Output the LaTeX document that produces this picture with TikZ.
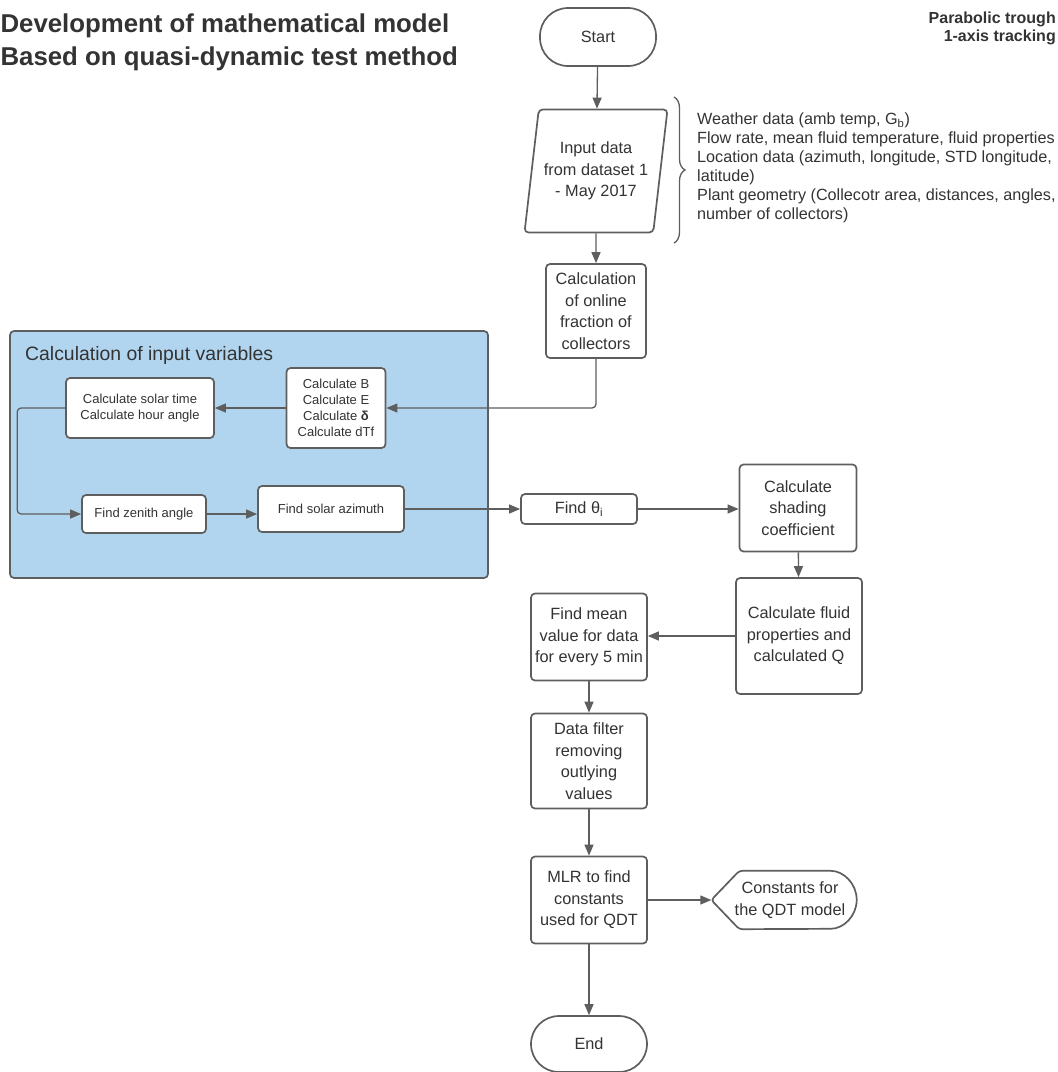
\documentclass[tikz,border=0pt]{standalone}
\usepackage{fontspec}
\setmainfont{Liberation Sans}
\usetikzlibrary{shapes.geometric,arrows.meta,decorations.pathreplacing}
\definecolor{lcol}{HTML}{5E5E5E}
\definecolor{tcol}{HTML}{333333}
\definecolor{grpblue}{HTML}{B1D5EF}
\newcommand{\fsz}[2]{\fontsize{#1}{#2}\selectfont}
\tikzstyle{proc}=[draw=lcol,line width=1.7pt,rounded corners=4pt,fill=white,align=center,text=tcol,inner sep=1pt,font=\fsz{16.3}{21.5}]
\tikzstyle{small}=[proc,font=\fsz{13}{16}]
\tikzstyle{term}=[proc,rounded corners=28pt,minimum width=116pt]
\tikzstyle{arr}=[draw=lcol,line width=1.3pt,-{Triangle[length=11pt,width=9pt]},rounded corners=4pt]
\tikzstyle{plain}=[draw=lcol,line width=1.3pt]
\tikzstyle{group}=[draw=lcol,line width=1.7pt,rounded corners=4pt,fill=grpblue]

\begin{document}
\begin{tikzpicture}[x=1pt,y=-1pt]
    \useasboundingbox (0,0) rectangle (1058,1072);
    % titles
    \node[anchor=west,align=left,text=tcol,font=\bfseries\fsz{25.8}{33}] (Title) at (-3,42)
        {Development of mathematical model\\Based on quasi-dynamic test method};
    \node[anchor=east,align=right,text=tcol,inner sep=0pt,font=\bfseries\fsz{16}{18}] (Note) at (1056,28)
        {Parabolic trough\\1-axis tracking};
    % main column
    \node[term,minimum height=58pt] (Start) at (598,37) {Start};
    \node[proc,trapezium,trapezium left angle=77.6,trapezium right angle=102.4,
          trapezium stretches,minimum width=143pt,minimum height=123pt] (Inp) at (596,171)
        {Input data\\from dataset 1\\- May 2017};
    \draw[decorate,decoration={brace,amplitude=11pt},plain] (674,97) -- (674,243);
    \node[anchor=north west,align=left,text=tcol,inner sep=0pt,font=\fsz{16.2}{19}] (Info) at (697,113)
        {Weather data (amb temp, G\textsubscript{b})\\
         Flow rate, mean fluid temperature, fluid properties\\
         Location data (azimuth, longitude, STD longitude,\\
         latitude)\\
         Plant geometry (Collecotr area, distances, angles,\\
         number of collectors)};
    \node[proc,minimum width=100pt,minimum height=94pt] (Online) at (596,311)
        {Calculation\\of online\\fraction of\\collectors};
    % group of input variables
    \node[group,minimum width=478pt,minimum height=247pt] (Grp) at (249,454.5) {};
    \node[anchor=west,text=tcol,font=\fsz{19.4}{22},inner sep=0pt] (GrpT) at (25,355) {Calculation of input variables};
    \node[small,minimum width=99pt,minimum height=80pt] (CalcB) at (336,408)
        {Calculate B\\Calculate E\\Calculate \textbf{δ}\\Calculate dTf};
    \node[small,minimum width=148pt,minimum height=60pt] (SolT) at (140,408)
        {Calculate solar time\\Calculate hour angle};
    \node[small,minimum width=124pt,minimum height=38pt] (Zen) at (144,514) {Find zenith angle};
    \node[small,minimum width=146pt,minimum height=46pt] (Azi) at (331,509) {Find solar azimuth};
    % right part
    \node[proc,minimum width=116pt,minimum height=30pt] (Theta) at (579,509) {Find θ\textsubscript{i}};
    \node[proc,minimum width=117pt,minimum height=87pt] (Shade) at (798,508)
        {Calculate\\shading\\coefficient};
    \node[proc,minimum width=126pt,minimum height=116pt] (Fluid) at (799,636)
        {Calculate fluid\\properties and\\calculated Q};
    \node[proc,minimum width=116pt,minimum height=87pt] (Mean) at (589,637)
        {Find mean\\value for data\\for every 5 min};
    \node[proc,minimum width=116pt,minimum height=95pt] (Filt) at (589,761)
        {Data filter\\removing\\outlying\\values};
    \node[proc,minimum width=116pt,minimum height=87pt] (MLR) at (589,900)
        {MLR to find\\constants\\used for QDT};
    \node[align=center,text=tcol,font=\fsz{16.3}{21.5},minimum width=145pt,minimum height=58pt,
          inner sep=0pt] (Const) at (784,900) {\hspace*{12pt}Constants for\\\hspace*{12pt}the QDT model};
    \draw[plain,line width=1.7pt,rounded corners=3pt] (Const.west) -- ([xshift=28pt]Const.north west)
        -- ([xshift=-29pt]Const.north east) arc[start angle=90,end angle=-90,radius=29pt]
        -- ([xshift=28pt]Const.south west) -- cycle;
    \node[term,minimum height=56pt] (End) at (589,1044) {End};
    % connectors
    \draw[arr] (Start) -- (Inp);
    \draw[arr] (Inp) -- (Online);
    \draw[arr] (Online.south) |- (CalcB.east);
    \draw[arr] (CalcB) -- (SolT);
    \draw[arr] (SolT.west) -- ++(-48,0) |- (Zen.west);
    \draw[arr] (Zen.east) -- (Zen.east -| Azi.west);
    \draw[arr] (Azi.east) -- (Azi.east -| Theta.west);
    \draw[arr] (Theta.east) -- (Theta.east -| Shade.west);
    \draw[arr] (Shade) -- (Fluid);
    \draw[arr] (Fluid.west) -- (Fluid.west -| Mean.east);
    \draw[arr] (Mean) -- (Filt);
    \draw[arr] (Filt) -- (MLR);
    \draw[arr] (MLR) -- (Const.west);
    \draw[arr] (MLR) -- (End);
\end{tikzpicture}
\end{document}
